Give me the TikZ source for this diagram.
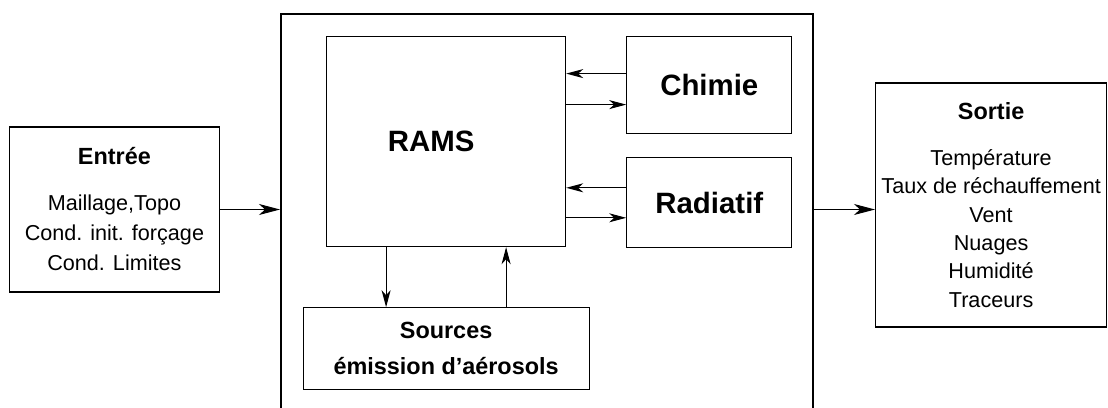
\documentclass[tikz,border=0pt]{standalone}
\usepackage{fontspec}
\setmainfont{Liberation Sans}
\usetikzlibrary{arrows.meta,positioning}

\begin{document}
\begin{tikzpicture}[x=0.5pt, y=-0.5pt,
    every node/.style={font=\fontsize{10.8}{15}\selectfont},
    box/.style={draw, line width=0.6pt, inner sep=0pt, align=center},
    frame/.style={draw, line width=1pt, minimum width=266pt,
                  minimum height=199pt, inner sep=0pt},
    big/.style={font=\fontsize{14.7}{18}\selectfont\bfseries},
    arr/.style={-{Stealth[length=8.5pt, width=4.5pt, inset=2.5pt]}, line width=0.5pt},
    bigarr/.style={-{Stealth[length=10.5pt, width=5.5pt, inset=3pt]}, line width=0.5pt},
  ]
  \useasboundingbox (0,0) rectangle (1108,407);

  % Model frame (its lower edge runs off the page) and inner boxes
  \node[frame] (model) at (547,213) {};
  \node[box, big, minimum width=119.5pt, minimum height=105pt,
        below right=11.5pt and 23pt of model.north west] (rams) {RAMS\hspace*{15pt}};
  \node[box, big, minimum width=82.5pt, minimum height=48.5pt,
        right=30pt of rams.north east, anchor=north west] (chimie) {Chimie};
  \node[box, big, minimum width=82.5pt, minimum height=45pt,
        below=11.5pt of chimie] (radiatif) {Radiatif};
  \node[box, minimum width=143pt, minimum height=41pt,
        font=\fontsize{11.7}{18}\selectfont\bfseries, below=30pt of rams]
    (sources) {Sources\\émission d'aérosols};

  % Input and output
  \node[box, minimum width=105pt, minimum height=82.5pt,
        left=30pt of model, yshift=1.75pt]
    (entree) {{\fontsize{11.7}{15}\selectfont\bfseries Entrée}\\[8pt]
              Maillage,Topo\\Cond. init. forçage\\Cond. Limites};
  \node[box, minimum width=115.5pt, minimum height=122pt,
        font=\fontsize{10.8}{14.2}\selectfont, right=30.5pt of model, yshift=4pt]
    (sortie) {{\fontsize{11.7}{15}\selectfont\bfseries Sortie}\\[8.8pt]
              Température\\Taux de réchauffement\\Vent\\Nuages\\Humidité\\Traceurs};

  % Arrows
  \draw[bigarr] (entree.east) -- (entree.east -| model.west);
  \draw[bigarr] (entree.east -| model.east) -- (entree.east -| sortie.west);
  \draw[arr] ([yshift=5.75pt]chimie.west) -- ([yshift=5.75pt]chimie.west -| rams.east);
  \draw[arr] ([yshift=-9.75pt]chimie.west -| rams.east) -- ([yshift=-9.75pt]chimie.west);
  \draw[arr] ([yshift=7.5pt]radiatif.west) -- ([yshift=7.5pt]radiatif.west -| rams.east);
  \draw[arr] ([yshift=-7.5pt]radiatif.west -| rams.east) -- ([yshift=-7.5pt]radiatif.west);
  \draw[arr] ([xshift=-30pt]rams.south) -- ([xshift=-30pt]rams.south |- sources.north);
  \draw[arr] ([xshift=30pt]rams.south |- sources.north) -- ([xshift=30pt]rams.south);
\end{tikzpicture}
\end{document}
